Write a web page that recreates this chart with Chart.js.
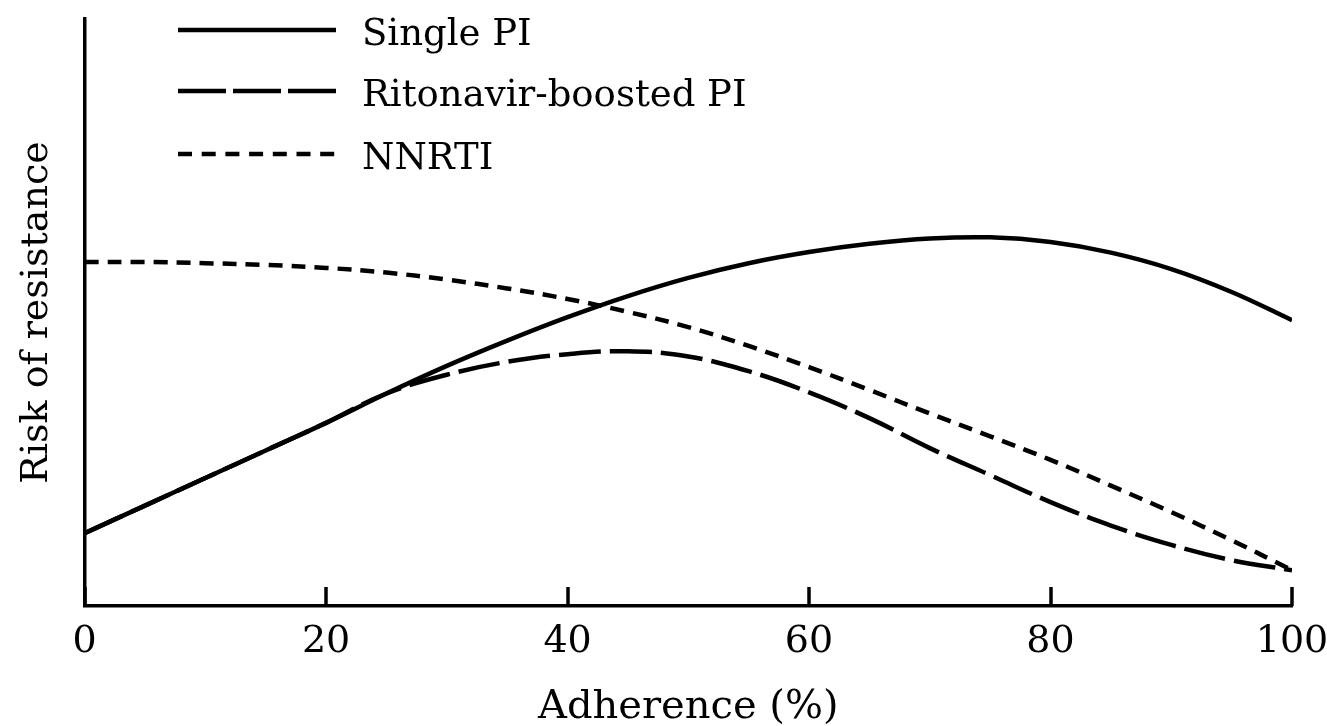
<!DOCTYPE html>
<html>
<head>
<meta charset="utf-8">
<script src="https://cdn.jsdelivr.net/npm/chart.js@4/dist/chart.umd.min.js"></script>
<style>
  html, body { margin: 0; padding: 0; background: #ffffff; }
  #wrap { width: 1327px; height: 726px; position: relative; }
</style>
</head>
<body>
<div id="wrap"><canvas id="c" width="1327" height="726"></canvas></div>
<script>
// ---- data ----
const adherence = [0, 5, 10, 15, 20, 25, 30, 35, 40, 45, 50, 55, 60, 65, 70, 75, 80, 85, 90, 95, 100];
const singlePI = [12.4, 17.1, 21.8, 26.5, 31.2, 36.2, 40.9, 45.2, 49.2, 52.8, 55.9, 58.4, 60.3, 61.7, 62.6, 62.8, 62.0, 60.2, 57.4, 53.5, 48.7];
const ritonavirPI = [12.4, 17.1, 21.8, 26.5, 31.2, 36.2, 39.4, 41.6, 42.9, 43.4, 42.5, 40.0, 36.4, 32.0, 26.9, 22.3, 17.7, 13.7, 10.4, 7.8, 6.1];
const nnrti = [58.6, 58.6, 58.4, 58.1, 57.6, 56.8, 55.6, 54.1, 52.3, 50.1, 47.5, 44.3, 40.7, 36.8, 32.8, 28.9, 24.9, 20.5, 16.0, 11.2, 6.1];
const seriesNames = ['Single PI', 'Ritonavir-boosted PI', 'NNRTI'];
const xTicks = [0, 20, 40, 60, 80, 100];
const xTitle = 'Adherence (%)';
const yTitle = 'Risk of resistance';

const FONT = "'DejaVu Serif', 'Liberation Serif', serif";
const dashes = [[], [42, 9], [14, 9]];
const legendDashes = [[], [48, 7], [14, 9.7]];

function pts(arr) { return adherence.map((x, i) => ({ x: x, y: arr[i] })); }

const insideTicks = {
  id: 'insideTicks',
  afterDraw(chart) {
    const ctx = chart.ctx;
    const xs = chart.scales.x;
    const b = chart.chartArea.bottom;
    ctx.save();
    ctx.strokeStyle = '#000';
    ctx.lineWidth = 3.5;
    xTicks.forEach(v => {
      const px = Math.round(xs.getPixelForValue(v));
      ctx.beginPath();
      ctx.moveTo(px, b);
      ctx.lineTo(px, b - 19);
      ctx.stroke();
    });
    ctx.restore();
  }
};

const customLegend = {
  id: 'customLegend',
  afterDraw(chart) {
    const ctx = chart.ctx;
    const rows = [30, 91, 154];
    ctx.save();
    chart.data.datasets.forEach((ds, i) => {
      const y = rows[i];
      ctx.strokeStyle = '#000';
      ctx.lineWidth = 4.5;
      ctx.setLineDash(legendDashes[i]);
      ctx.beginPath();
      ctx.moveTo(178, y);
      ctx.lineTo(336, y);
      ctx.stroke();
      ctx.setLineDash([]);
      ctx.fillStyle = '#000';
      ctx.font = "37px " + FONT;
      ctx.textBaseline = 'middle';
      ctx.textAlign = 'left';
      ctx.fillText(ds.label, 362, y + 5);
    });
    ctx.restore();
  }
};

new Chart(document.getElementById('c'), {
  type: 'line',
  data: {
    datasets: [
      { label: seriesNames[0], data: pts(singlePI) },
      { label: seriesNames[1], data: pts(ritonavirPI) },
      { label: seriesNames[2], data: pts(nnrti) }
    ].map((d, i) => Object.assign(d, {
      borderColor: '#000',
      borderWidth: 4.5,
      borderDash: dashes[i],
      pointRadius: 0,
      fill: false,
      tension: 0.4,
      borderCapStyle: 'butt'
    }))
  },
  options: {
    responsive: false,
    animation: false,
    events: [],
    layout: { padding: { left: 10, right: 35, top: 19, bottom: 0 } },
    plugins: { legend: { display: false }, tooltip: { enabled: false } },
    scales: {
      x: {
        type: 'linear',
        min: 0, max: 100,
        afterFit(s) { s.paddingLeft = 0; s.paddingRight = 0; },
        afterBuildTicks(s) { s.ticks = xTicks.map(v => ({ value: v })); },
        ticks: { color: '#000', font: { family: FONT, size: 38 }, padding: 13.5, maxRotation: 0 },
        grid: { display: true, drawOnChartArea: false, drawTicks: false, color: 'rgba(0,0,0,0)' },
        border: { display: true, color: '#000', width: 3.5 },
        title: { display: true, text: xTitle, color: '#000', font: { family: FONT, size: 40, lineHeight: 0.9 }, padding: { top: 11.4, bottom: 0 } }
      },
      y: {
        type: 'linear',
        min: 0, max: 100,
        afterFit(s) { s.paddingTop = 0; s.paddingBottom = 0; },
        ticks: { display: false },
        grid: { display: true, drawOnChartArea: false, drawTicks: false, color: 'rgba(0,0,0,0)' },
        border: { display: true, color: '#000', width: 3.5 },
        title: { display: true, text: yTitle, color: '#000', font: { family: FONT, size: 38 }, padding: { top: 4, bottom: 25 } }
      }
    }
  },
  plugins: [insideTicks, customLegend]
});
</script>
</body>
</html>
